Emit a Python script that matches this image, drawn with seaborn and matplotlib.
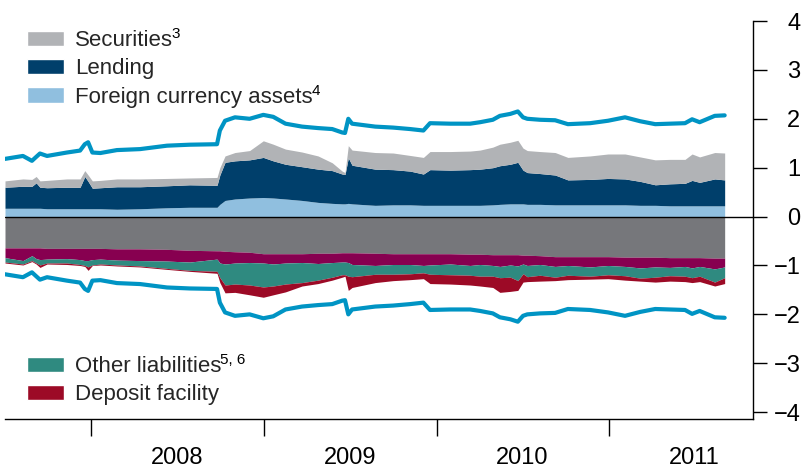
import matplotlib
matplotlib.use("Agg")
import matplotlib.pyplot as plt
import matplotlib.dates as mdates
from matplotlib.patches import Patch
import seaborn as sns
import numpy as np
import pandas as pd

# sample dates (weekly data thinned to the turning points)
dates = [
    "2007-07-02", "2007-08-09", "2007-08-28", "2007-09-06", "2007-09-14", "2007-09-29",
    "2007-11-10", "2007-12-08", "2007-12-18", "2007-12-25", "2008-01-03", "2008-01-20",
    "2008-02-24", "2008-04-13", "2008-06-09", "2008-07-27", "2008-09-23", "2008-09-29",
    "2008-10-10", "2008-10-31", "2008-12-01", "2008-12-30", "2009-01-20", "2009-02-15",
    "2009-03-22", "2009-04-25", "2009-05-25", "2009-06-15", "2009-06-21", "2009-06-28",
    "2009-07-06", "2009-08-24", "2009-10-01", "2009-11-06", "2009-12-04", "2009-12-18",
    "2010-01-30", "2010-03-13", "2010-04-03", "2010-04-30", "2010-05-15", "2010-06-06",
    "2010-06-22", "2010-07-03", "2010-07-12", "2010-08-08", "2010-09-09", "2010-10-06",
    "2010-11-22", "2010-12-30", "2011-02-04", "2011-03-08", "2011-04-09", "2011-05-10",
    "2011-06-11", "2011-06-26", "2011-07-12", "2011-08-13", "2011-09-03",
]

# assets side, cumulative levels (trillions)
fx_top = [
    .17, .17, .17, .17, .17, .16, .16, .16, .16, .16, .16, .16,
    .15, .16, .18, .19, .19, .25, .33, .36, .38, .39, .38, .36,
    .33, .29, .27, .26, .26, .27, .26, .23, .24, .24, .23, .23,
    .23, .23, .23, .24, .25, .26, .26, .26, .25, .25, .24, .24,
    .24, .24, .24, .23, .23, .22, .22, .22, .22, .22, .22,
]
lending_top = [
    .60, .62, .62, .69, .60, .59, .60, .60, .82, .72, .58, .59,
    .61, .61, .63, .65, .64, .85, 1.11, 1.14, 1.16, 1.21, 1.14, 1.07,
    1.02, .97, .94, .87, .86, 1.20, 1.05, .97, .96, .93, .87, .96,
    .95, .96, .97, 1.00, 1.04, 1.07, 1.11, .95, .90, .88, .85, .75,
    .76, .78, .77, .72, .65, .67, .68, .74, .70, .77, .75,
]
securities_top = [
    .73, .77, .76, .82, .73, .74, .77, .77, .94, .85, .73, .74,
    .77, .77, .78, .79, .80, 1.00, 1.24, 1.31, 1.35, 1.55, 1.48, 1.38,
    1.32, 1.24, 1.10, .93, .90, 1.45, 1.36, 1.31, 1.30, 1.25, 1.21, 1.33,
    1.33, 1.34, 1.36, 1.42, 1.48, 1.52, 1.56, 1.40, 1.35, 1.33, 1.31, 1.21,
    1.24, 1.28, 1.28, 1.22, 1.16, 1.17, 1.17, 1.28, 1.22, 1.31, 1.30,
]
total = [
    1.18, 1.24, 1.14, 1.22, 1.29, 1.24, 1.31, 1.35, 1.48, 1.52, 1.31, 1.30,
    1.36, 1.38, 1.45, 1.47, 1.48, 1.76, 1.96, 2.03, 2.00, 2.08, 2.04, 1.90,
    1.84, 1.81, 1.79, 1.72, 1.71, 2.00, 1.90, 1.84, 1.82, 1.79, 1.76, 1.91,
    1.90, 1.90, 1.93, 1.98, 2.06, 2.10, 2.15, 2.03, 2.00, 1.98, 1.97, 1.89,
    1.91, 1.96, 2.03, 1.95, 1.89, 1.90, 1.91, 1.99, 1.93, 2.06, 2.07,
]

# liabilities side, cumulative levels
banknotes_bot = [
    -.64, -.64, -.64, -.64, -.64, -.65, -.65, -.65, -.65, -.65, -.65, -.65,
    -.66, -.66, -.67, -.69, -.70, -.70, -.71, -.72, -.73, -.76, -.76, -.76,
    -.76, -.75, -.75, -.74, -.74, -.74, -.74, -.75, -.76, -.76, -.76, -.76,
    -.76, -.77, -.77, -.78, -.78, -.78, -.78, -.79, -.79, -.80, -.82, -.82,
    -.82, -.82, -.83, -.83, -.83, -.84, -.84, -.84, -.84, -.85, -.85,
]
current_bot = [
    -.84, -.90, -.80, -.86, -.88, -.87, -.86, -.88, -.90, -.90, -.88, -.87,
    -.89, -.90, -.91, -.93, -.87, -.95, -.97, -.95, -.94, -.95, -.97, -.95,
    -.94, -.96, -.94, -.93, -.93, -.94, -.98, -1.00, -.98, -.98, -1.00, -.99,
    -.97, -1.00, -.98, -1.00, -1.02, -.99, -1.01, -.97, -1.00, -.98, -1.02, -1.00,
    -1.03, -1.00, -1.02, -1.05, -1.03, -1.04, -1.02, -1.05, -1.02, -1.07, -1.03,
]
other_bot = [
    -.93, -.97, -.90, -.95, -.99, -.95, -.95, -.98, -1.00, -1.03, -.99, -.97,
    -.99, -1.01, -1.06, -1.10, -1.12, -1.25, -1.40, -1.38, -1.40, -1.44, -1.42, -1.38,
    -1.35, -1.30, -1.24, -1.19, -1.19, -1.22, -1.23, -1.18, -1.18, -1.17, -1.15, -1.18,
    -1.19, -1.20, -1.22, -1.22, -1.25, -1.24, -1.31, -1.17, -1.23, -1.20, -1.24, -1.20,
    -1.22, -1.19, -1.21, -1.26, -1.24, -1.21, -1.22, -1.25, -1.22, -1.34, -1.25,
]
deposit_bot = [
    -.95, -.99, -.92, -.97, -1.04, -.97, -.98, -1.00, -1.02, -1.10, -1.00, -.99,
    -1.01, -1.03, -1.08, -1.12, -1.16, -1.35, -1.56, -1.55, -1.60, -1.65, -1.60, -1.54,
    -1.42, -1.37, -1.30, -1.24, -1.22, -1.51, -1.45, -1.35, -1.31, -1.29, -1.27, -1.37,
    -1.38, -1.40, -1.42, -1.45, -1.55, -1.53, -1.51, -1.34, -1.33, -1.32, -1.31, -1.29,
    -1.28, -1.27, -1.30, -1.32, -1.34, -1.32, -1.33, -1.35, -1.33, -1.42, -1.37,
]

yticks = [-4, -3, -2, -1, 0, 1, 2, 3, 4]
top_labels = ["Securities", "Lending", "Foreign currency assets"]
top_notes = ["3", "", "4"]
bot_labels = ["Other liabilities", "Deposit facility"]
bot_notes = ["5, 6", ""]

sns.set_theme(style="white")
plt.rcParams["font.family"] = ["Liberation Sans", "DejaVu Sans"]

df = pd.DataFrame({
    "date": pd.to_datetime(dates),
    "fx": fx_top, "lending": lending_top, "securities": securities_top,
    "total": total, "banknotes": banknotes_bot, "current": current_bot,
    "other": other_bot, "deposit": deposit_bot,
})
df["neg_total"] = -df["total"]

c_sec = "#b1b3b6"
c_lend = "#003f6b"
c_fx = "#90bfdf"
c_notes = "#76777b"
c_curr = "#870050"
c_other = "#2f8a80"
c_dep = "#9c0a26"
c_line = "#0094c4"

FS = 16
TICK_FS = 17

fig, ax = plt.subplots(figsize=(8.03, 4.72), dpi=100)
fig.subplots_adjust(left=5/803, right=753/803, bottom=1-419/472, top=1-21/472)

x = df["date"]
ax.fill_between(x, 0, df["fx"], color=c_fx, lw=0)
ax.fill_between(x, df["fx"], df["lending"], color=c_lend, lw=0)
ax.fill_between(x, df["lending"], df["securities"], color=c_sec, lw=0)
ax.fill_between(x, 0, df["banknotes"], color=c_notes, lw=0)
ax.fill_between(x, df["banknotes"], df["current"], color=c_curr, lw=0)
ax.fill_between(x, df["current"], df["other"], color=c_other, lw=0)
ax.fill_between(x, df["other"], df["deposit"], color=c_dep, lw=0)

sns.lineplot(data=df, x="date", y="total", color=c_line, lw=3, ax=ax)
sns.lineplot(data=df, x="date", y="neg_total", color=c_line, lw=3, ax=ax)

ax.axhline(0, color="black", lw=1, zorder=5)

ax.set_xlim(pd.Timestamp("2007-07-02"), pd.Timestamp("2011-11-02"))
ax.set_ylim(-4.14, 4)
ax.set_xlabel("")
ax.set_ylabel("")

# year boundaries as ticks, year labels centred mid-year
ax.xaxis.set_major_locator(mdates.YearLocator())
ax.xaxis.set_major_formatter(plt.NullFormatter())
ax.xaxis.set_minor_locator(mdates.MonthLocator(bymonth=7))
ax.xaxis.set_minor_formatter(mdates.DateFormatter("%Y"))
ax.tick_params(axis="x", which="major", direction="out", length=12, width=1,
               color="black", bottom=True)
ax.tick_params(axis="x", which="minor", length=0, pad=20, labelsize=TICK_FS,
               labelcolor="black", bottom=True)

ax.yaxis.tick_right()
ax.set_yticks(yticks)
ax.set_yticklabels([str(v).replace("-", "\u2212") for v in yticks])
ax.tick_params(axis="y", direction="out", length=10, width=1, color="black",
               pad=24, labelsize=TICK_FS, labelcolor="black", right=True)
for lab in ax.get_yticklabels():
    lab.set_horizontalalignment("right")

for side in ["left", "top"]:
    ax.spines[side].set_visible(False)
for side in ["right", "bottom"]:
    ax.spines[side].set_visible(True)
    ax.spines[side].set_color("black")
    ax.spines[side].set_linewidth(1)

legend_kw = dict(loc="upper left", bbox_transform=fig.transFigure, frameon=False,
                 fontsize=FS, handlelength=1.67, handleheight=0.68,
                 handletextpad=0.5, labelspacing=0.33, borderpad=0, borderaxespad=0)

top_handles = [Patch(facecolor=c_sec), Patch(facecolor=c_lend), Patch(facecolor=c_fx)]
leg1 = ax.legend(top_handles, top_labels, bbox_to_anchor=(27/803, 1-30/472), **legend_kw)
ax.add_artist(leg1)

bot_handles = [Patch(facecolor=c_other), Patch(facecolor=c_dep)]
leg2 = ax.legend(bot_handles, bot_labels, bbox_to_anchor=(27/803, 1-356/472), **legend_kw)

# footnote superscripts right after the legend labels
fig.canvas.draw()
renderer = fig.canvas.get_renderer()
for leg, notes in [(leg1, top_notes), (leg2, bot_notes)]:
    for txt, note in zip(leg.get_texts(), notes):
        if not note:
            continue
        bb = txt.get_window_extent(renderer)
        fig.text(bb.x1 - 1.5, bb.y1 + 3, note, transform=None, fontsize=11,
                 ha="left", va="top", color="black")

fig.savefig("out.png", dpi=100)
